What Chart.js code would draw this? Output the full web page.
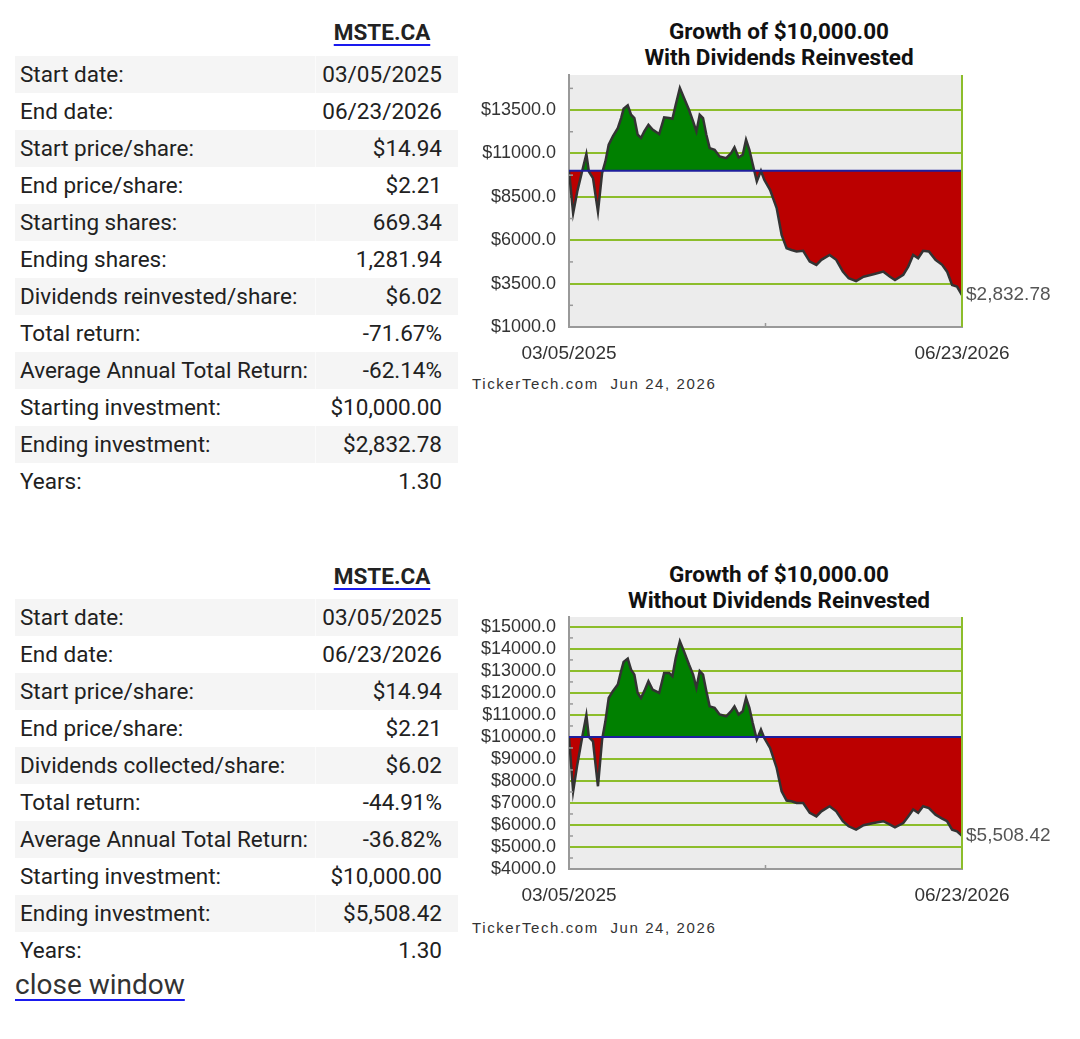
<!DOCTYPE html>
<html>
<head>
<meta charset="utf-8">
<script src="https://cdn.jsdelivr.net/npm/chart.js@4/dist/chart.umd.min.js"></script>
<style>
  body { margin: 0; background: #fff; font-family: Roboto, "Noto Sans", sans-serif; color: #212121; }
  .abs { position: absolute; }
  .sym { width: 144px; text-align: center; font-weight: bold; font-size: 22.5px; color: #222;
         text-decoration: underline; text-decoration-color: #1a1aee; text-decoration-thickness: 2px; text-underline-offset: 4px; }
  .row { position: absolute; left: 15px; width: 443px; height: 37px; font-size: 22.5px; line-height: 37px; }
  .row.g { background: #f5f5f5; }
  .row .lab { position: absolute; left: 5px; }
  .row .val { position: absolute; right: 16px; }
  .row.g .sep { position: absolute; left: 300px; top: 0; width: 1px; height: 37px; background: #fbfbfb; }
  .title { width: 400px; text-align: center; font-weight: bold; font-size: 22.5px; line-height: 26px; color: #111; }
  .stamp { font-family: "Liberation Sans", Arial, sans-serif; font-size: 15px; letter-spacing: 1.6px; color: #333; }
  .close { font-size: 28px; color: #333; text-decoration: underline; text-decoration-color: #1a1aee; text-decoration-thickness: 2px; text-underline-offset: 5px; }
</style>
</head>
<body>
<div class="abs sym" style="left:310px; top:19px;">MSTE.CA</div>
<div id="table1"></div>
<div class="abs title" style="left:579px; top:18px;">Growth of $10,000.00<br>With Dividends Reinvested</div>
<canvas id="chart1" class="abs" width="600" height="298" style="left:460px; top:65px;"></canvas>
<div class="abs stamp" style="left:472px; top:375px;">TickerTech.com&nbsp; Jun 24, 2026</div>

<div class="abs sym" style="left:310px; top:563px;">MSTE.CA</div>
<div id="table2"></div>
<div class="abs title" style="left:579px; top:561px;">Growth of $10,000.00<br>Without Dividends Reinvested</div>
<canvas id="chart2" class="abs" width="600" height="298" style="left:460px; top:607px;"></canvas>
<div class="abs stamp" style="left:472px; top:919px;">TickerTech.com&nbsp; Jun 24, 2026</div>

<div class="abs close" style="left:15px; top:968px;">close window</div>

<script>
// Dados das tabelas
const rows1 = [
    ['Start date:', '03/05/2025'],
    ['End date:', '06/23/2026'],
    ['Start price/share:', '$14.94'],
    ['End price/share:', '$2.21'],
    ['Starting shares:', '669.34'],
    ['Ending shares:', '1,281.94'],
    ['Dividends reinvested/share:', '$6.02'],
    ['Total return:', '-71.67%'],
    ['Average Annual Total Return:', '-62.14%'],
    ['Starting investment:', '$10,000.00'],
    ['Ending investment:', '$2,832.78'],
    ['Years:', '1.30']
];
const rows2 = [
    ['Start date:', '03/05/2025'],
    ['End date:', '06/23/2026'],
    ['Start price/share:', '$14.94'],
    ['End price/share:', '$2.21'],
    ['Dividends collected/share:', '$6.02'],
    ['Total return:', '-44.91%'],
    ['Average Annual Total Return:', '-36.82%'],
    ['Starting investment:', '$10,000.00'],
    ['Ending investment:', '$5,508.42'],
    ['Years:', '1.30']
];

// Dados dos gráficos (dias desde 03/05/2025)
const days = [0, 5, 10, 16, 21, 24, 29, 35, 40, 44,
    48, 53, 59, 63, 66, 71, 75, 79, 83, 87,
    91, 96, 101, 109, 115, 121, 125, 129, 134, 139,
    145, 150, 154, 158, 162, 166, 170, 176, 182, 190,
    196, 200, 205, 210, 214, 218, 222, 227, 232, 236,
    243, 251, 257, 263, 269, 275, 283, 291, 299, 305,
    315, 323, 331, 338, 347, 356, 368, 380, 388, 394,
    404, 410, 416, 422, 428, 435, 443, 451, 457, 463,
    469, 475];
const withReinvest = [10000, 7560, 8810, 10000, 10960, 9960, 9580, 7650, 9870, 10540,
    11500, 11980, 12460, 13040, 13580, 13770, 13230, 13040, 12080, 11890,
    12270, 12650, 12370, 12120, 13080, 13040, 13000, 13810, 14770, 14190,
    13520, 12850, 12270, 13230, 13040, 12080, 11310, 11210, 10830, 10730,
    11020, 11350, 10770, 10920, 11790, 11210, 10390, 9390, 10000, 9480,
    8900, 7850, 6310, 5540, 5440, 5350, 5390, 4770, 4580, 4870,
    5150, 4870, 4190, 3810, 3650, 3900, 4040, 4190, 3900, 3710,
    4000, 4480, 5150, 4960, 5390, 5350, 4870, 4580, 4190, 3420,
    3330, 2832.78];
const withoutReinvest = [10000, 7530, 8740, 10000, 10990, 10000, 9800, 7760, 9880, 10710,
    11770, 12080, 12380, 12990, 13410, 13560, 13060, 12830, 12000, 11770,
    12080, 12530, 12150, 12000, 12910, 12910, 12760, 13590, 14350, 13890,
    13290, 12830, 12230, 12990, 12830, 12080, 11390, 11320, 11020, 10940,
    11170, 11390, 11020, 11170, 11770, 11320, 10640, 9880, 10330, 9950,
    9500, 8590, 7530, 7110, 7080, 7000, 7000, 6550, 6390, 6620,
    6850, 6620, 6170, 5940, 5790, 5990, 6090, 6170, 6020, 5890,
    6090, 6390, 6700, 6550, 6850, 6770, 6470, 6290, 6170, 5790,
    5710, 5508.42];
const dateLabels = ['03/05/2025', '06/23/2026'];
const ticksWith = [1000, 3500, 6000, 8500, 11000, 13500];
const ticksWithout = [4000, 5000, 6000, 7000, 8000, 9000, 10000, 11000, 12000, 13000, 14000, 15000];
const startValue = 10000;

// Monta as linhas das tabelas
function buildTable(rows, top) {
    let html = '';
    rows.forEach((r, i) => {
        html += '<div class="row' + (i % 2 === 0 ? ' g' : '') + '" style="top:' + (top + i * 37) + 'px">' +
            '<span class="sep"></span><span class="lab">' + r[0] + '</span><span class="val">' + r[1] + '</span></div>';
    });
    return html;
}
document.getElementById('table1').innerHTML = buildTable(rows1, 56);
document.getElementById('table2').innerHTML = buildTable(rows2, 599);

// Fundo, borda direita, marcas menores e rótulo final
const extras = {
    id: 'extras',
    beforeDraw(chart) {
        const { ctx, chartArea: a } = chart;
        ctx.save();
        ctx.fillStyle = '#ececec';
        ctx.fillRect(a.left, a.top, a.right - a.left, a.bottom - a.top);
        ctx.restore();
    },
    afterDraw(chart) {
        const { ctx, chartArea: a } = chart;
        const y = chart.scales.y;
        const t = chart.options.plugins.extras.ticks;
        ctx.save();
        ctx.strokeStyle = '#8cbd2b';
        ctx.lineWidth = 2;
        ctx.beginPath();
        ctx.moveTo(a.right, a.top);
        ctx.lineTo(a.right, a.bottom);
        ctx.stroke();
        // marcas menores
        ctx.strokeStyle = '#999';
        ctx.lineWidth = 1.5;
        const step = t[1] - t[0];
        for (let v = t[0] + step / 2; v < y.max; v += step) {
            const py = y.getPixelForValue(v);
            ctx.beginPath();
            ctx.moveTo(a.left, py);
            ctx.lineTo(a.left + 4, py);
            ctx.stroke();
        }
        const mx = (a.left + a.right) / 2;
        ctx.beginPath();
        ctx.moveTo(mx, a.bottom);
        ctx.lineTo(mx, a.bottom - 4);
        ctx.stroke();
        // rótulo do último valor
        const data = chart.data.datasets[1].data;
        const last = data[data.length - 1].y;
        ctx.fillStyle = '#555';
        ctx.font = '19px "Liberation Sans", Arial, sans-serif';
        ctx.textAlign = 'left';
        ctx.textBaseline = 'middle';
        ctx.fillText('$' + last.toLocaleString('en-US', { minimumFractionDigits: 2 }), a.right + 4, y.getPixelForValue(last));
        ctx.restore();
    }
};

function makeChart(id, values, yTicks, yMax) {
    const ctx = document.getElementById(id).getContext('2d');
    const points = days.map((d, i) => ({ x: d, y: values[i] }));
    return new Chart(ctx, {
        type: 'line',
        data: {
            datasets: [{
                data: [{ x: days[0], y: startValue }, { x: days[days.length - 1], y: startValue }],
                borderColor: '#1e1e9c',
                borderWidth: 2,
                pointRadius: 0,
                fill: false,
                order: 0
            }, {
                data: points,
                borderColor: '#333',
                borderWidth: 2.5,
                pointRadius: 0,
                tension: 0,
                fill: { target: { value: startValue }, above: '#008000', below: '#bb0000' },
                order: 1
            }]
        },
        options: {
            responsive: false,
            animation: false,
            layout: { padding: { top: 10, right: 98, left: 0, bottom: 0 } },
            plugins: {
                legend: { display: false },
                tooltip: { enabled: false },
                extras: { ticks: yTicks }
            },
            scales: {
                x: {
                    type: 'linear',
                    min: days[0],
                    max: days[days.length - 1],
                    afterBuildTicks: s => { s.ticks = [{ value: days[0] }, { value: days[days.length - 1] }]; },
                    afterFit: s => {
                        s.height = 36;
                        s.paddingLeft = 0; s.paddingRight = 0; s.paddingTop = 0; s.paddingBottom = 0;
                    },
                    grid: { display: false },
                    border: { color: '#999', width: 2 },
                    ticks: {
                        autoSkip: false,
                        maxRotation: 0,
                        padding: 7,
                        color: '#333',
                        font: { family: 'Liberation Sans', size: 19 },
                        callback: (v, i) => dateLabels[i]
                    }
                },
                y: {
                    min: yTicks[0],
                    max: yMax,
                    afterBuildTicks: s => { s.ticks = yTicks.map(v => ({ value: v })); },
                    afterFit: s => {
                        s.width = 109;
                        s.paddingLeft = 0; s.paddingRight = 0; s.paddingTop = 0; s.paddingBottom = 0;
                    },
                    grid: {
                        drawTicks: false,
                        lineWidth: 2,
                        color: c => (c.tick && c.tick.value === yTicks[0]) ? 'rgba(0,0,0,0)' : '#8cbd2b'
                    },
                    border: { color: '#999', width: 2 },
                    ticks: {
                        autoSkip: false,
                        padding: 13,
                        color: '#333',
                        font: { family: 'Liberation Sans', size: 18 },
                        callback: v => '$' + v.toFixed(1)
                    }
                }
            }
        },
        plugins: [extras]
    });
}

makeChart('chart1', withReinvest, ticksWith, 15520);
makeChart('chart2', withoutReinvest, ticksWithout, 15450);
</script>
</body>
</html>
